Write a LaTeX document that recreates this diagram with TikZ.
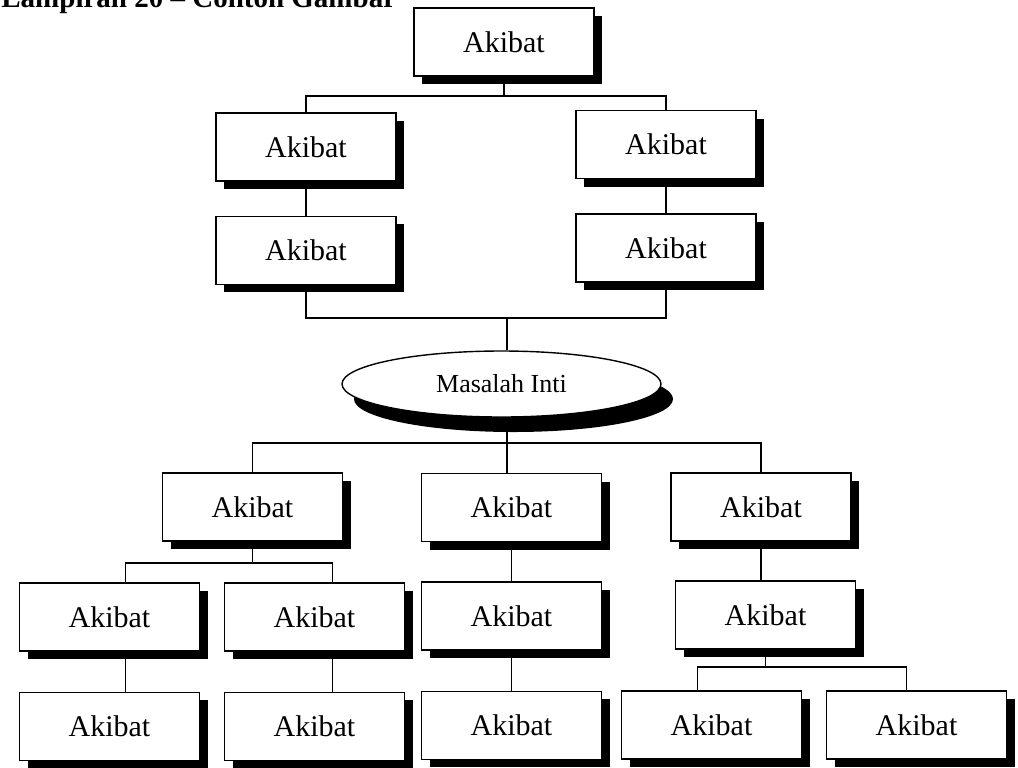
\documentclass[tikz,border=0pt]{standalone}
\usepackage{fontspec}
\setmainfont{Liberation Serif}
\usetikzlibrary{positioning,shapes.geometric,shadows}

\begin{document}
\begin{tikzpicture}
    [ x = .5pt, y = -.5pt
    , akibat/.style =
      { draw, line width=.7pt, fill=white, inner sep=0pt
      , minimum width=90pt, minimum height=34pt
      , font=\fontsize{15}{17}\selectfont
      , drop shadow={shadow xshift=4pt, shadow yshift=-4pt, fill=black, opacity=1}
      }
    , inti/.style =
      { draw, ellipse, line width=.7pt, fill=white, inner sep=0pt
      , minimum width=159.5pt, minimum height=33pt
      , font=\fontsize{13}{15}\selectfont
      , drop shadow={shadow xshift=6pt, shadow yshift=-7.5pt, fill=black, opacity=1}
      }
    , link/.style =
      { line width=.6pt }
    ]
    \useasboundingbox (0,0) rectangle (1018,767);

    \node [anchor=base west, inner sep=0pt, font=\bfseries\fontsize{14.5}{17}\selectfont]
      (title) at (1,7) {Lampiran 20 -- Contoh Gambar};

    % upper part
    \node [akibat] (top) at (504,42) {Akibat};
    \node [akibat] (ul1) at (306,147) {Akibat};
    \node [akibat] (ul2) [below=17pt of ul1] {Akibat};
    \node [akibat] (ur1) at (666,144.5) {Akibat};
    \node [akibat] (ur2) [below=17pt of ur1] {Akibat};

    \node [inti] (core) at (501.5,384) {Masalah Inti};

    % lower part
    \node [akibat] (ml1) at (252.5,507) {Akibat};
    \node [akibat] (a1) at (109.5,617) {Akibat};
    \node [akibat] (a3) [below=20pt of a1] {Akibat};
    \node [akibat] (a2) at (314.5,617) {Akibat};
    \node [akibat] (a4) [below=20pt of a2] {Akibat};

    \node [akibat] (mc1) at (511.5,507.5) {Akibat};
    \node [akibat] (mc2) [below=19.5pt of mc1] {Akibat};
    \node [akibat] (mc3) [below=20pt of mc2] {Akibat};

    \node [akibat] (mr1) at (761,507) {Akibat};
    \node [akibat] (mr2) at (765.5,615) {Akibat};
    \node [akibat] (b1) at (711.5,725) {Akibat};
    \node [akibat] (b2) at (916.5,725) {Akibat};

    \coordinate (bus1) at (504,96);
    \coordinate (bus2) at (507,318);
    \coordinate (bus3) at (507,443);
    \coordinate (bus4) at (252.5,563);
    \coordinate (bus5) at (763,667);

    \draw [link] (top.south) -- (bus1);
    \draw [link] (ul1.north) |- (bus1) -| (ur1.north);
    \draw [link] (ul1) -- (ul2);
    \draw [link] (ur1) -- (ur2);
    \draw [link] (ul2.south) |- (bus2) -| (ur2.south);
    \draw [link] (bus2) -- (bus2 |- core.north);

    \draw [link] (bus3 |- core.south) -- (bus3);
    \draw [link] (ml1.north) |- (bus3) -| (mr1.north);
    \draw [link] (bus3) -- (bus3 |- mc1.north);
    \draw [link] (mc1) -- (mc2);
    \draw [link] (mc2) -- (mc3);

    \draw [link] (ml1.south) -- (bus4);
    \draw [link] ([xshift=8pt]a1.north) |- (bus4) -| ([xshift=9pt]a2.north);
    \draw [link] ([xshift=8pt]a1.south) -- ([xshift=8pt]a3.north);
    \draw [link] ([xshift=9pt]a2.south) -- ([xshift=9pt]a4.north);

    \draw [link] (mr1.south) -- (mr1.south |- mr2.north);
    \draw [link] (mr2.south) -- (mr2.south |- bus5);
    \draw [link] ([xshift=-7pt]b1.north) |- (bus5) -| ([xshift=-5pt]b2.north);
\end{tikzpicture}
\end{document}
